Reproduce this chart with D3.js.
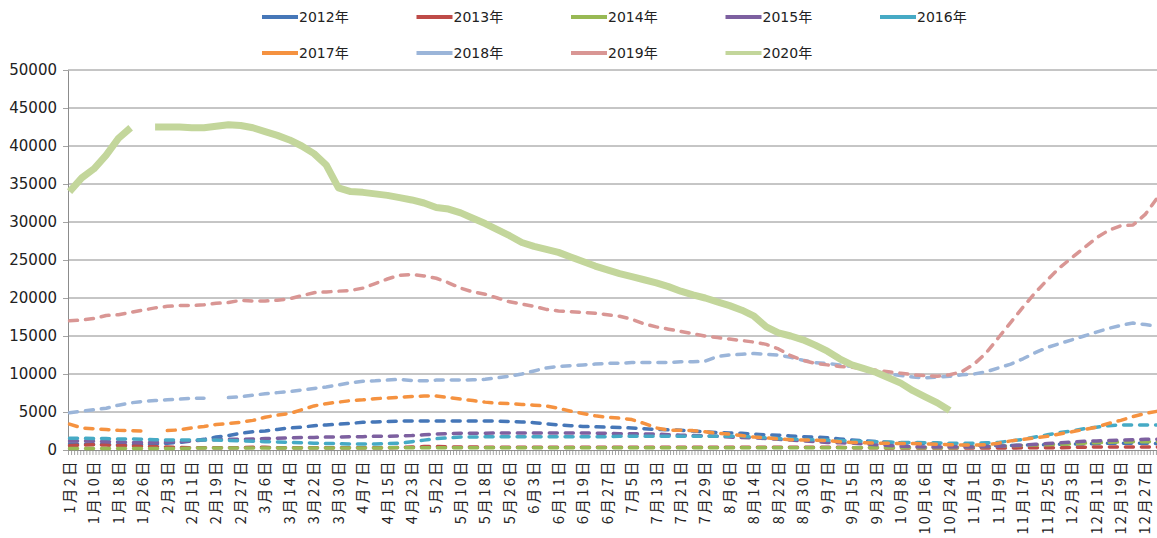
<!DOCTYPE html>
<html>
<head>
<meta charset="utf-8">
<style>
    body { margin: 0; background: #fff; }
    svg { display: block; }
    .grid line { stroke: #8c8c8c; stroke-width: 1; }
    .axis path, .axis line { stroke: #8c8c8c; }
    .ylab text { font-family: "DejaVu Sans", sans-serif; font-size: 15px; fill: #222; }
    .xlab text { font-family: "Noto Sans CJK SC", sans-serif; font-size: 14.5px; fill: #222; letter-spacing: 2.4px; }
    .legend text { font-family: "DejaVu Sans", "Noto Sans CJK SC", sans-serif; font-size: 14px; fill: #222; }
</style>
</head>
<body>
<script src="https://cdn.jsdelivr.net/npm/d3@7"></script>
<script>

    // x labels: one every 8 trading-day categories
    var tickLabels = ["1月2日", "1月10日", "1月18日", "1月26日", "2月3日", "2月11日", "2月19日", "2月27日",
        "3月6日", "3月14日", "3月22日", "3月30日", "4月7日", "4月15日", "4月23日", "5月2日", "5月10日",
        "5月18日", "5月26日", "6月3日", "6月11日", "6月19日", "6月27日", "7月5日", "7月13日", "7月21日",
        "7月29日", "8月6日", "8月14日", "8月22日", "8月30日", "9月7日", "9月15日", "9月23日", "10月8日",
        "10月16日", "10月24日", "11月1日", "11月9日", "11月17日", "11月25日", "12月3日", "12月11日",
        "12月19日", "12月27日"];
    var labelEvery = 8;       // categories between labels
    var nCategories = 357;    // trading-day categories on the axis
    var sampleEvery = 4;      // values below are read every 4 categories
    var yTicks = [0, 5000, 10000, 15000, 20000, 25000, 30000, 35000, 40000, 45000, 50000];

    var years = ["2012年", "2013年", "2014年", "2015年", "2016年", "2017年", "2018年", "2019年", "2020年"];

    var s2012 = [800, 800, 750, 750, 700, 700, 750, 800, 900, 1000,
        1200, 1400, 1700, 1900, 2200, 2400, 2500, 2700, 2900, 3000,
        3200, 3300, 3400, 3500, 3650, 3700, 3750, 3800, 3800, 3800,
        3800, 3800, 3800, 3800, 3800, 3800, 3750, 3700, 3600, 3450,
        3300, 3200, 3100, 3050, 3000, 2950, 2900, 2800, 2700, 2650,
        2600, 2500, 2400, 2300, 2250, 2200, 2100, 2000, 1950, 1850,
        1750, 1700, 1600, 1450, 1300, 1200, 1100, 1000, 950, 900,
        850, 800, 700, 650, 600, 600, 600, 600, 650, 650,
        700, 750, 800, 800, 850, 900, 900, 900, 900, 850];
    var s2013 = [600, 650, 700, 650, 600, 550, 500, 450, 400, 350,
        300, 300, 300, 300, 300, 350, 350, 300, 300, 300,
        300, 300, 300, 300, 300, 300, 300, 350, 400, 450,
        450, 400, 400, 400, 350, 350, 350, 350, 350, 350,
        350, 350, 350, 350, 350, 350, 350, 350, 350, 350,
        350, 350, 350, 350, 350, 350, 350, 350, 350, 350,
        350, 350, 350, 350, 300, 300, 300, 250, 250, 250,
        250, 250, 250, 250, 250, 250, 250, 250, 300, 300,
        300, 300, 350, 350, 400, 400, 400, 400, 400, 400];
    var s2014 = [200, 200, 200, 200, 200, 200, 200, 200, 200, 200,
        250, 250, 250, 250, 250, 250, 250, 250, 250, 250,
        250, 250, 250, 250, 250, 250, 300, 300, 300, 300,
        300, 300, 300, 300, 300, 300, 300, 300, 300, 300,
        300, 300, 300, 300, 300, 300, 300, 300, 300, 300,
        300, 300, 300, 300, 300, 300, 300, 300, 300, 300,
        300, 300, 300, 300, 300, 300, 300, 300, 300, 300,
        300, 300, 300, 350, 400, 450, 500, 550, 600, 650,
        700, 750, 800, 900, 950, 1000, 1050, 1100, 1100, 1100];
    var s2015 = [1200, 1200, 1150, 1100, 1050, 1000, 1000, 1000, 1050, 1100,
        1200, 1300, 1350, 1400, 1400, 1450, 1500, 1550, 1600, 1650,
        1650, 1700, 1700, 1750, 1750, 1800, 1800, 1850, 1900, 2000,
        2100, 2150, 2200, 2200, 2200, 2250, 2250, 2250, 2250, 2250,
        2250, 2250, 2250, 2200, 2200, 2150, 2150, 2100, 2100, 2000,
        1950, 1900, 1850, 1800, 1700, 1650, 1600, 1500, 1400, 1300,
        1200, 1100, 1000, 950, 900, 800, 700, 600, 500, 450,
        400, 400, 400, 400, 400, 450, 500, 550, 650, 750,
        850, 950, 1050, 1150, 1200, 1250, 1300, 1350, 1400, 1400];
    var s2016 = [1550, 1550, 1500, 1500, 1450, 1450, 1400, 1350, 1300, 1300,
        1300, 1300, 1300, 1250, 1200, 1150, 1100, 1050, 1000, 950,
        900, 850, 850, 800, 800, 800, 850, 900, 1100, 1300,
        1500, 1600, 1700, 1700, 1750, 1750, 1750, 1750, 1750, 1750,
        1750, 1750, 1750, 1750, 1750, 1800, 1800, 1800, 1800, 1800,
        1800, 1800, 1800, 1800, 1800, 1800, 1700, 1600, 1500, 1450,
        1400, 1350, 1300, 1250, 1200, 1150, 1100, 1050, 1000, 1000,
        950, 950, 900, 900, 900, 950, 1000, 1200, 1400, 1700,
        2000, 2300, 2500, 2800, 3000, 3200, 3300, 3300, 3300, 3300];
    var s2017 = [3400, 2900, 2800, 2700, 2600, 2550, 2500, null, 2550, 2650,
        2900, 3100, 3350, 3500, 3650, 3900, 4300, 4600, 4800, 5300,
        5800, 6100, 6300, 6500, 6600, 6750, 6850, 6950, 7050, 7100,
        7100, 6900, 6700, 6500, 6300, 6150, 6100, 6000, 5900, 5800,
        5500, 5100, 4800, 4500, 4300, 4200, 4000, 3500, 2900, 2600,
        2600, 2550, 2400, 2200, 2100, 1900, 1700, 1600, 1450, 1350,
        1300, 1300, 1250, 1100, 1000, 950, 900, 900, 850, 850,
        800, 750, 700, 650, 650, 700, 900, 1200, 1400, 1600,
        1800, 2100, 2400, 2700, 3000, 3500, 3900, 4400, 4800, 5100];
    var s2018 = [4900, 5100, 5300, 5500, 5900, 6200, 6400, 6500, 6600, 6700,
        6800, 6800, null, 6900, 7000, 7200, 7400, 7550, 7700, 7900,
        8100, 8300, 8550, 8850, 9050, 9100, 9200, 9300, 9150, 9100,
        9200, 9200, 9200, 9250, 9300, 9500, 9700, 10000, 10400, 10800,
        11000, 11100, 11200, 11300, 11400, 11400, 11500, 11500, 11500, 11500,
        11600, 11600, 11700, 12300, 12500, 12600, 12700, 12600, 12500, 12200,
        11800, 11500, 11400, 11200, 11000, 10600, 10300, 10000, 9800, 9600,
        9500, 9600, 9700, 9900, 10000, 10300, 10800, 11300, 12000, 12800,
        13500, 14000, 14500, 15000, 15500, 16000, 16400, 16700, 16500, 16300];
    var s2019 = [17000, 17100, 17300, 17700, 17800, 18100, 18400, 18700, 18900, 19000,
        19000, 19100, 19300, 19400, 19700, 19600, 19600, 19700, 19900, 20300,
        20700, 20800, 20900, 21000, 21300, 21900, 22500, 23000, 23100, 22900,
        22600, 22000, 21300, 20800, 20500, 20000, 19500, 19200, 18900, 18500,
        18300, 18200, 18100, 18000, 17800, 17600, 17200, 16600, 16200, 15900,
        15600, 15300, 15000, 14800, 14600, 14400, 14200, 13900, 13300, 12400,
        11800, 11400, 11200, 11000, 10900, 10700, 10500, 10300, 10100, 9900,
        9800, 9700, 9900, 10300, 11300, 12800, 14800, 16800, 18800, 20700,
        22400, 24000, 25300, 26600, 27900, 28900, 29500, 29600, 31000, 33200];
    var s2020 = [34000, 35800, 37000, 38800, 41000, 42400, null, 42500, 42500, 42500,
        42400, 42400, 42600, 42800, 42700, 42400, 41900, 41400, 40800, 40000,
        39000, 37500, 34500, 34000, 33900, 33700, 33500, 33200, 32900, 32500,
        31900, 31700, 31200, 30500, 29800, 29000, 28200, 27300, 26800, 26400,
        26000, 25400, 24800, 24200, 23700, 23200, 22800, 22400, 22000, 21500,
        20900, 20400, 20000, 19500, 19000, 18400, 17600, 16200, 15400, 15000,
        14500, 13800, 13000, 12000, 11200, 10700, 10200, 9500, 8800, 7800,
        7000, 6200, 5200];

    var colors = ["#4677b8", "#be4b48", "#98b954", "#7d60a0", "#46aac5",
        "#f59240", "#9bb5d9", "#d99694", "#c3d69b"];

    var allSeries = [s2012, s2013, s2014, s2015, s2016, s2017, s2018, s2019, s2020];

    var width = 1157,
        height = 538,
        plotLeft = 68,
        plotTop = 70,
        plotBottom = 450,
        catWidth = 3.056;

    var svg = d3.select("body").append("svg")
        .attr("width", width)
        .attr("height", height);

    var x = d3.scaleLinear()
        .domain([0, nCategories])
        .range([plotLeft, plotLeft + nCategories * catWidth]);
    var y = d3.scaleLinear()
        .domain([0, 50000])
        .range([plotBottom, plotTop]);

    // horizontal gridlines
    svg.append("g").attr("class", "grid")
        .selectAll("line")
        .data(yTicks.slice(1))
        .join("line")
        .attr("x1", plotLeft).attr("x2", x(nCategories))
        .attr("y1", function (d) { return y(d); })
        .attr("y2", function (d) { return y(d); });

    // y axis
    svg.append("g").attr("class", "axis ylab")
        .attr("transform", "translate(" + plotLeft + ",0)")
        .call(d3.axisLeft(y).tickValues(yTicks).tickSize(5).tickSizeOuter(0).tickPadding(6)
            .tickFormat(function (d) { return d; }));

    // x axis: a tick for every category
    svg.append("g").attr("class", "axis")
        .attr("transform", "translate(0," + plotBottom + ")")
        .call(d3.axisBottom(x).tickValues(d3.range(0, nCategories + 1)).tickSize(5)
            .tickSizeOuter(0).tickFormat(""));
    svg.selectAll(".axis .tick line").attr("stroke-width", 0.8);

    // x labels, rotated
    svg.append("g").attr("class", "xlab")
        .selectAll("text")
        .data(tickLabels)
        .join("text")
        .attr("transform", function (d, i) {
            return "translate(" + x(i * labelEvery + 0.5) + "," + (plotBottom + 9) + ") rotate(-90)";
        })
        .attr("text-anchor", "end")
        .attr("dy", "0.36em")
        .text(function (d) { return d; });

    // series lines
    var line = d3.line()
        .defined(function (d) { return d != null; })
        .x(function (d, i) { return x(i * sampleEvery + 0.5); })
        .y(function (d) { return y(d); });

    svg.append("g")
        .selectAll("path")
        .data(allSeries)
        .join("path")
        .attr("fill", "none")
        .attr("stroke", function (d, i) { return colors[i]; })
        .attr("stroke-width", function (d, i) { return i == 8 ? 7 : 3.5; })
        .attr("stroke-dasharray", function (d, i) { return i == 8 ? null : "8,8"; })
        .attr("stroke-linecap", function (d, i) { return i == 8 ? "butt" : "round"; })
        .attr("stroke-linejoin", "round")
        .attr("d", line);

    // legend, two rows
    var legend = svg.append("g").attr("class", "legend")
        .selectAll("g")
        .data(years)
        .join("g")
        .attr("transform", function (d, i) {
            return "translate(" + (262 + (i % 5) * 154.5) + "," + (i < 5 ? 17 : 53) + ")";
        });
    legend.append("line")
        .attr("x1", 0).attr("x2", 36)
        .attr("stroke", function (d, i) { return colors[i]; })
        .attr("stroke-width", 4);
    legend.append("text")
        .attr("x", 37)
        .attr("dy", "0.36em")
        .text(function (d) { return d; });

</script>
</body>
</html>
